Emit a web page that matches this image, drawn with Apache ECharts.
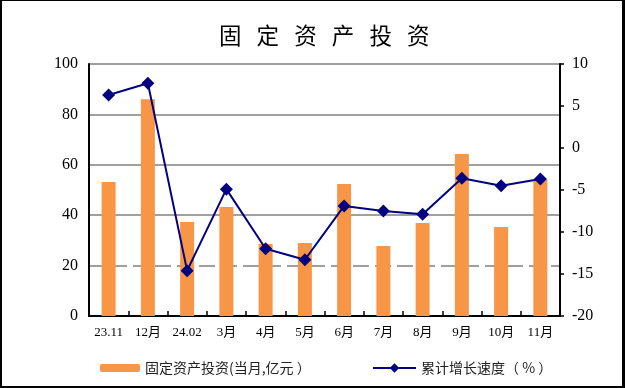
<!DOCTYPE html>
<html>
<head>
<meta charset="utf-8">
<script src="https://cdn.jsdelivr.net/npm/echarts@6/dist/echarts.min.js"></script>
<style>
html,body{margin:0;padding:0;background:#fff;}
#wrap{position:relative;width:625px;height:388px;}
#chart{position:absolute;left:0;top:0;width:625px;height:388px;}
#frame{position:absolute;left:0;top:0;width:625px;height:388px;box-sizing:border-box;border-style:solid;border-color:#000;border-width:1px 3px 2px 2px;pointer-events:none;}
</style>
</head>
<body>
<div id="wrap"><div id="chart"></div><div id="frame"></div></div>
<script>
const categories = ['23.11','12月','24.02','3月','4月','5月','6月','7月','8月','9月','10月','11月'];
const investMonthly = [53.2, 86.0, 37.3, 43.3, 28.6, 29.0, 52.4, 27.8, 36.9, 64.3, 35.3, 54.4];
const cumulativeGrowth = [6.3, 7.7, -14.6, -4.9, -12.0, -13.3, -6.9, -7.5, -7.9, -3.6, -4.5, -3.7];
const leftTicks = [0, 20, 40, 60, 80, 100];
const rightTicks = [-20, -15, -10, -5, 0, 5, 10];
const titleText = '固   定   资   产   投   资';
const barName = '固定资产投资(当月,亿元 ）';
const lineName = '累计增长速度（ % ）';

const serif = "'Liberation Serif', 'Times New Roman', 'Noto Sans CJK SC', serif";
const cjk = "'Noto Sans CJK SC', sans-serif";

const chart = echarts.init(document.getElementById('chart'), null, {renderer: 'canvas'});
chart.setOption({
  animation: false,
  backgroundColor: '#fff',
  title: {
    text: titleText,
    left: 214,
    top: 19,
    textStyle: {fontFamily: cjk, fontSize: 22.5, fontWeight: 'normal', color: '#000'}
  },
  legend: [
    {
      data: [barName], left: 95, top: 355, itemWidth: 40, itemHeight: 8, itemGap: 10,
      textStyle: {fontFamily: cjk, fontSize: 14, color: '#222', lineHeight: 16}
    },
    {
      data: [lineName], left: 367, top: 355, itemWidth: 43, itemHeight: 12,
      textStyle: {fontFamily: cjk, fontSize: 14, color: '#222', lineHeight: 16}
    }
  ],
  grid: {left: 89, right: 65, top: 64, bottom: 72, containLabel: false},
  xAxis: {
    type: 'category',
    data: categories,
    boundaryGap: true,
    axisLine: {lineStyle: {color: '#000', width: 2}},
    axisTick: {show: true, inside: true, length: 5, lineStyle: {color: '#000', width: 1.5}},
    axisLabel: {fontFamily: serif, fontSize: 13, color: '#000', margin: 10, interval: 0}
  },
  yAxis: [
    {
      type: 'value', min: leftTicks[0], max: leftTicks[leftTicks.length - 1], interval: 20,
      position: 'left',
      axisLine: {show: true, lineStyle: {color: '#000', width: 2}},
      axisTick: {show: false},
      axisLabel: {fontFamily: serif, fontSize: 16, color: '#000', margin: 11},
      splitLine: {show: true, lineStyle: {color: ['#808080', 'transparent', '#808080', '#808080', '#808080', '#808080'], width: 1.6}}
    },
    {
      type: 'value', min: rightTicks[0], max: rightTicks[rightTicks.length - 1], interval: 5,
      position: 'right',
      axisLine: {show: true, lineStyle: {color: '#000', width: 2}},
      axisTick: {show: true, inside: false, length: 4, lineStyle: {color: '#000', width: 1.5}},
      axisLabel: {fontFamily: serif, fontSize: 16, color: '#000', margin: 12},
      splitLine: {show: false}
    },
    {
      type: 'value', min: leftTicks[0], max: leftTicks[leftTicks.length - 1], interval: 20,
      position: 'left', show: true,
      axisLine: {show: false}, axisTick: {show: false}, axisLabel: {show: false},
      splitLine: {show: true, lineStyle: {color: ['transparent', '#808080', 'transparent', 'transparent', 'transparent', 'transparent'], width: 1.6, type: [16, 6]}}
    }
  ],
  series: [
    {
      name: barName, type: 'bar', yAxisIndex: 0, data: investMonthly,
      barWidth: 14, itemStyle: {color: '#F79646'}, z: 2
    },
    {
      name: lineName, type: 'line', yAxisIndex: 1, data: cumulativeGrowth,
      symbol: 'diamond', symbolSize: 13, showAllSymbol: true,
      lineStyle: {color: '#000080', width: 2},
      itemStyle: {color: '#000080'}, z: 3
    }
  ]
});
</script>
</body>
</html>
